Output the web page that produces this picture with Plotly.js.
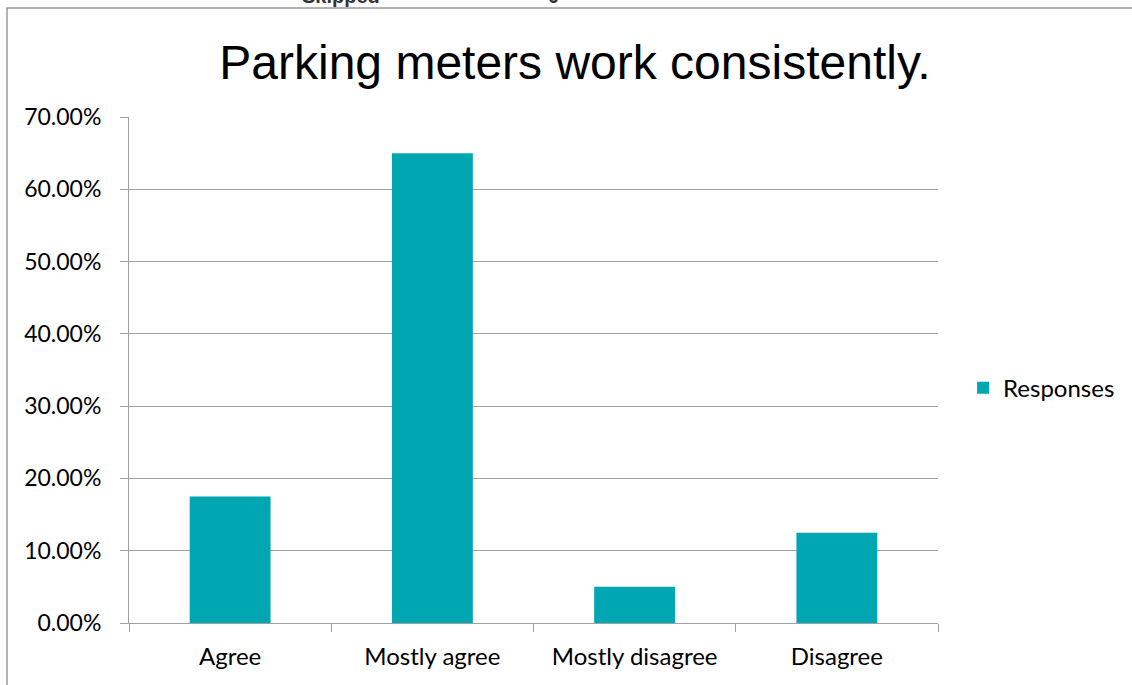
<!DOCTYPE html>
<html>
<head>
<meta charset="utf-8">
<script src="https://cdn.plot.ly/plotly-3.0.1.min.js"></script>
<style>html,body{margin:0;padding:0;background:#fff;}#chart{width:1132px;height:685px;}</style>
</head>
<body>
<div id="chart"></div>
<script>
const categories = ["Agree", "Mostly agree", "Mostly disagree", "Disagree"];
const responses = [0.175, 0.65, 0.05, 0.125];
const yTicks = [0, 0.1, 0.2, 0.3, 0.4, 0.5, 0.6, 0.7];

const trace = {
  type: 'bar',
  name: 'Responses',
  x: categories,
  y: responses,
  marker: {color: '#00A6B2'},
  hoverinfo: 'none'
};

const fam = 'Lato, "Noto Sans", sans-serif';

const layout = {
  width: 1132, height: 685,
  margin: {l: 129, r: 194, t: 117, b: 62, pad: 0},
  paper_bgcolor: '#fff', plot_bgcolor: '#fff',
  title: {
    text: 'Parking meters work consistently.',
    font: {family: '"Liberation Sans", Arial, sans-serif', size: 48, color: '#000'},
    xref: 'container', x: 575/1132, xanchor: 'center',
    yref: 'container', y: 1 - 62/685, yanchor: 'middle'
  },
  bargap: 0.6,
  showlegend: true,
  legend: {
    x: 1.031, xanchor: 'left', y: 0.464, yanchor: 'middle',
    font: {family: fam, size: 24, color: '#000'}, bgcolor: 'rgba(0,0,0,0)'
  },
  xaxis: {
    type: 'category',
    tickfont: {family: fam, size: 24, color: '#000'},
    showline: true, linecolor: '#a0a0a0', linewidth: 1,
    ticks: 'outside', tickson: 'boundaries', ticklen: 8, tickcolor: '#a0a0a0',
    ticklabelstandoff: 12,
    showgrid: false, zeroline: false, fixedrange: true
  },
  yaxis: {
    range: [0, 0.7],
    tickvals: yTicks,
    tickformat: '.2%',
    tickfont: {family: fam, size: 23, color: '#000'},
    showline: true, linecolor: '#a0a0a0', linewidth: 1,
    ticks: 'outside', ticklen: 8, tickcolor: '#a0a0a0',
    ticklabelstandoff: 14,
    showgrid: true, gridcolor: '#a0a0a0', gridwidth: 1,
    zeroline: false, fixedrange: true
  },
  shapes: [{
    type: 'rect', xref: 'paper', yref: 'paper',
    x0: (7 - 129) / 809, x1: (1145 - 129) / 809,
    y0: (623 - 700) / 506, y1: (623 - 8) / 506,
    line: {color: '#9a9a9a', width: 1.5}, fillcolor: 'rgba(0,0,0,0)', layer: 'below'
  }],
  annotations: [
    {text: '<b>Skipped</b>', xref: 'paper', yref: 'paper', x: (341 - 129) / 809, y: (623 - 9) / 506,
     xanchor: 'center', yanchor: 'bottom', showarrow: false,
     font: {family: '"Liberation Sans", Arial, sans-serif', size: 20, color: '#333'}},
    {text: '<b>0</b>', xref: 'paper', yref: 'paper', x: (553 - 129) / 809, y: (623 - 9) / 506,
     xanchor: 'center', yanchor: 'bottom', showarrow: false,
     font: {family: '"Liberation Sans", Arial, sans-serif', size: 20, color: '#333'}}
  ]
};

Plotly.newPlot('chart', [trace], layout, {displayModeBar: false, staticPlot: true});
</script>
</body>
</html>
